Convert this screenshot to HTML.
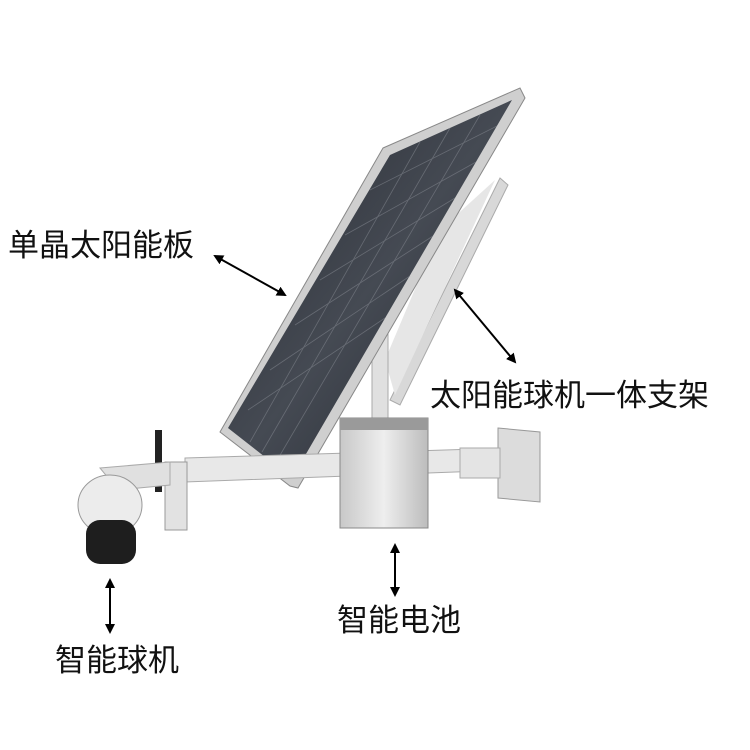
<!DOCTYPE html>
<html><head><meta charset="utf-8"><style>
html,body{margin:0;padding:0;background:#fff;}
svg{display:block}
text{font-family:"Liberation Sans","Noto Sans CJK SC",sans-serif;font-size:31px;fill:#111}
</style></head><body>
<svg width="750" height="750" viewBox="0 0 750 750" xmlns="http://www.w3.org/2000/svg">
<defs>
<marker id="a" markerWidth="10" markerHeight="10" refX="8" refY="5" orient="auto-start-reverse" markerUnits="userSpaceOnUse">
<path d="M0,0 L10,5 L0,10 z" fill="#000"/></marker>
<linearGradient id="pn" x1="0" y1="0" x2="1" y2="1">
<stop offset="0" stop-color="#262a31"/><stop offset="0.5" stop-color="#454a53"/><stop offset="1" stop-color="#1f232a"/></linearGradient>
<linearGradient id="bx" x1="0" y1="0" x2="1" y2="0">
<stop offset="0" stop-color="#c8c8c8"/><stop offset="0.5" stop-color="#eeeeee"/><stop offset="1" stop-color="#bcbcbc"/></linearGradient>
</defs>
<polygon points="500,178 508,185 400,405 390,400" fill="#d8d8d8" stroke="#aaa"/>
<polygon points="440,230 495,180 395,395 385,360" fill="#e6e6e6"/>
<rect x="372" y="330" width="16" height="95" fill="#e0e0e0" stroke="#aaa"/>
<polygon points="383,148 520,88 525,98 298,488 290,486 220,432" fill="#cfcfcf" stroke="#888"/>
<polygon points="390,155 512,100 292,478 228,428" fill="url(#pn)"/>
<g stroke="#8c9098" stroke-width="0.8" opacity="0.5">
<line x1="420" y1="142" x2="250" y2="442"/><line x1="450" y1="128" x2="262" y2="452"/>
<line x1="480" y1="115" x2="276" y2="462"/>
<line x1="370" y1="190" x2="497" y2="126"/><line x1="345" y1="235" x2="476" y2="162"/>
<line x1="320" y1="280" x2="455" y2="198"/><line x1="295" y1="325" x2="433" y2="236"/>
<line x1="270" y1="370" x2="410" y2="276"/><line x1="248" y1="410" x2="385" y2="318"/>
</g>
<polygon points="185,458 510,448 510,470 185,482" fill="#e8e8e8" stroke="#aaa"/>
<polygon points="498,428 540,432 540,502 498,498" fill="#dcdcdc" stroke="#999"/>
<rect x="460" y="448" width="40" height="30" fill="#e4e4e4" stroke="#aaa"/>
<rect x="165" y="462" width="22" height="68" fill="#e2e2e2" stroke="#999"/>
<rect x="340" y="418" width="88" height="110" fill="url(#bx)" stroke="#888"/>
<rect x="340" y="418" width="88" height="12" fill="#9a9a9a"/>
<rect x="155" y="430" width="7" height="62" fill="#222"/>
<polygon points="100,468 170,462 170,485 118,490" fill="#e0e0e0" stroke="#aaa"/>
<ellipse cx="110" cy="505" rx="32" ry="30" fill="#ececec" stroke="#999"/>
<rect x="86" y="520" width="50" height="44" rx="14" fill="#1e1e1e"/>
<g stroke="#000" stroke-width="2" fill="none">
<line x1="215" y1="256" x2="285" y2="295" marker-start="url(#a)" marker-end="url(#a)"/>
<line x1="455" y1="290" x2="515" y2="362" marker-start="url(#a)" marker-end="url(#a)"/>
<line x1="395" y1="545" x2="395" y2="595" marker-start="url(#a)" marker-end="url(#a)"/>
<line x1="110" y1="580" x2="110" y2="632" marker-start="url(#a)" marker-end="url(#a)"/>
</g>
<text x="8" y="256">单晶太阳能板</text>
<text x="430" y="406">太阳能球机一体支架</text>
<text x="337" y="631">智能电池</text>
<text x="55" y="671">智能球机</text>
</svg>
</body></html>
